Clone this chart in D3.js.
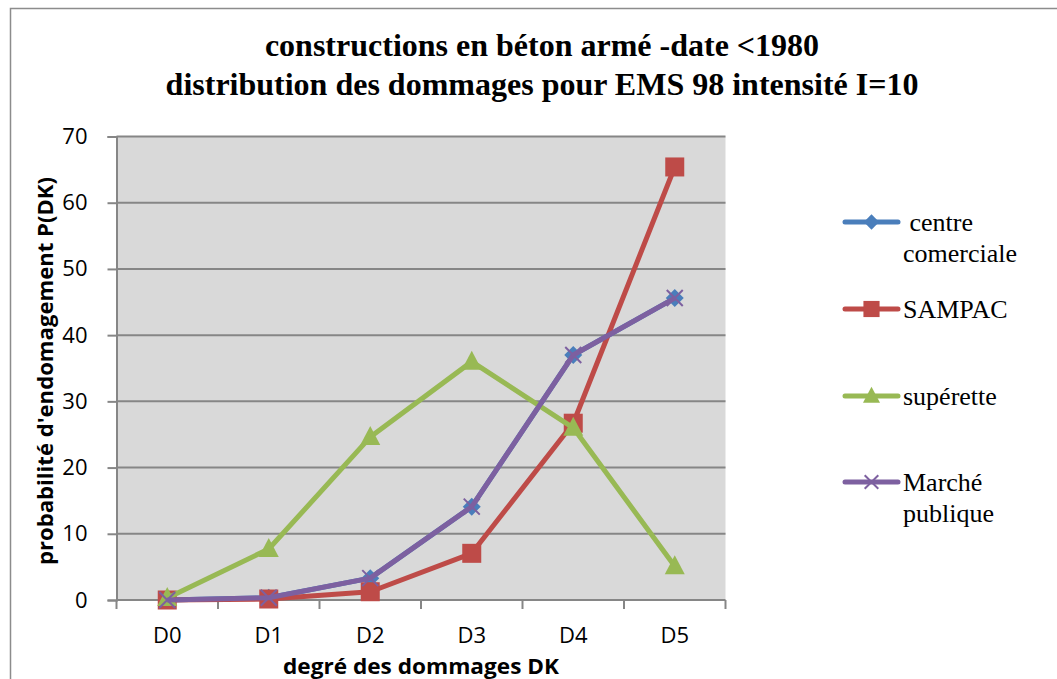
<!DOCTYPE html>
<html>
<head>
<meta charset="utf-8">
<script src="https://cdn.jsdelivr.net/npm/d3@7"></script>
<style>
  html, body { margin: 0; padding: 0; background: #fff; }
  svg { display: block; }
</style>
</head>
<body>
<svg id="chart" width="1057" height="679"></svg>
<script>
// Damage grades and probabilities (%) per building
const categories = ["D0", "D1", "D2", "D3", "D4", "D5"];
const centreComerciale = [0, 0.35, 3.3, 14.1, 37.0, 45.6];
const sampac = [0, 0.15, 1.25, 7.05, 26.7, 65.4];
const superette = [0.3, 7.7, 24.6, 36.0, 26.0, 5.1];
const marchePublique = [0, 0.35, 3.3, 14.1, 37.0, 45.6];
const yTicks = [0, 10, 20, 30, 40, 50, 60, 70];

const series = [
  { name: ["\u00a0centre", "comerciale"], values: centreComerciale, color: "#4a7ebb", marker: "diamond" },
  { name: ["SAMPAC"], values: sampac, color: "#be4b48", marker: "square" },
  { name: ["supérette"], values: superette, color: "#98b954", marker: "triangle" },
  { name: ["Marché", "publique"], values: marchePublique, color: "#7d60a0", marker: "cross" }
];

const sansFont = "'Open Sans', 'Noto Sans', sans-serif";
const serifFont = "'Liberation Serif', 'Times New Roman', serif";

const svg = d3.select("#chart");
const plot = { left: 116.5, right: 725.5, top: 136.5, bottom: 600 };

// Outer frame (left and top edges visible)
svg.append("path")
  .attr("d", "M10.5,679 L10.5,8.5 L1057,8.5")
  .attr("fill", "none").attr("stroke", "#8c8c8c").attr("stroke-width", 1.5);

const x = d3.scaleBand().domain(categories).range([plot.left, plot.right]);
const y = d3.scaleLinear().domain([0, 70]).range([plot.bottom, plot.top]);
const cx = d => x(d) + x.bandwidth() / 2;

// Plot background
svg.append("rect")
  .attr("x", plot.left).attr("y", plot.top)
  .attr("width", plot.right - plot.left).attr("height", plot.bottom - plot.top)
  .attr("fill", "#d9d9d9");

// Horizontal gridlines
svg.append("g").selectAll("line").data(yTicks.filter(t => t > 0)).join("line")
  .attr("x1", plot.left).attr("x2", plot.right)
  .attr("y1", d => y(d)).attr("y2", d => y(d))
  .attr("stroke", "#868686").attr("stroke-width", 2);

// Y axis
const yAxis = svg.append("g").attr("transform", `translate(${plot.left},0)`)
  .call(d3.axisLeft(y).tickValues(yTicks).tickSize(9).tickPadding(20));
yAxis.select(".domain").attr("stroke", "#868686").attr("stroke-width", 2);
yAxis.selectAll(".tick line").attr("stroke", "#868686").attr("stroke-width", 2);
yAxis.selectAll(".tick text")
  .attr("font-family", sansFont).attr("font-size", 22).attr("fill", "#000");

// X axis with ticks between categories
const xAxis = svg.append("g").attr("transform", `translate(0,${plot.bottom})`)
  .call(d3.axisBottom(x).tickSize(0).tickPadding(27));
xAxis.select(".domain").attr("stroke", "#868686").attr("stroke-width", 2)
  .attr("d", `M${plot.left},0H${plot.right}`);
xAxis.selectAll(".tick text")
  .attr("font-family", sansFont).attr("font-size", 22).attr("fill", "#000");
xAxis.append("g").selectAll("line")
  .data(d3.range(categories.length + 1)).join("line")
  .attr("x1", i => plot.left + i * x.bandwidth())
  .attr("x2", i => plot.left + i * x.bandwidth())
  .attr("y1", 0).attr("y2", 9)
  .attr("stroke", "#868686").attr("stroke-width", 2);

// Marker shapes
function drawMarker(g, type, px, py, color, scale) {
  const s = scale || 1;
  if (type === "diamond") {
    const r = 9 * s;
    g.append("path").attr("d", `M${px},${py - r}L${px + r},${py}L${px},${py + r}L${px - r},${py}Z`)
      .attr("fill", color);
  } else if (type === "square") {
    const h = 9.5 * s;
    g.append("rect").attr("x", px - h).attr("y", py - h).attr("width", 2 * h).attr("height", 2 * h)
      .attr("fill", color);
  } else if (type === "triangle") {
    const h = 10 * s;
    g.append("path").attr("d", `M${px},${py - h * 1.1}L${px + h},${py + h * 0.8}L${px - h},${py + h * 0.8}Z`)
      .attr("fill", color);
  } else if (type === "cross") {
    const r = 8 * s;
    g.append("path").attr("d", `M${px - r},${py - r}L${px + r},${py + r}M${px + r},${py - r}L${px - r},${py + r}`)
      .attr("stroke", color).attr("stroke-width", 2).attr("fill", "none");
  }
}

const line = d3.line().x((d, i) => cx(categories[i])).y(d => y(d));

series.forEach(s => {
  const g = svg.append("g");
  g.append("path").datum(s.values)
    .attr("d", line).attr("fill", "none")
    .attr("stroke", s.color).attr("stroke-width", 5).attr("stroke-linejoin", "round");
  s.values.forEach((v, i) => drawMarker(g, s.marker, cx(categories[i]), y(v), s.color));
});

// Title
const title = svg.append("text")
  .attr("text-anchor", "middle")
  .attr("font-family", serifFont)
  .attr("font-weight", "bold").attr("font-size", 32).attr("fill", "#000");
title.append("tspan").attr("x", 542).attr("y", 56).text("constructions en béton armé -date <1980");
title.append("tspan").attr("x", 542).attr("y", 95).text("distribution des dommages pour EMS 98 intensité I=10");

// Axis titles
svg.append("text")
  .attr("x", 421).attr("y", 674).attr("text-anchor", "middle")
  .attr("font-family", sansFont)
  .attr("font-weight", "bold").attr("font-size", 22).attr("fill", "#000")
  .attr("textLength", 276).attr("lengthAdjust", "spacingAndGlyphs")
  .text("degré des dommages DK");

svg.append("text")
  .attr("transform", "translate(53,371) rotate(-90)")
  .attr("text-anchor", "middle")
  .attr("font-family", sansFont)
  .attr("font-weight", "bold").attr("font-size", 21).attr("fill", "#000")
  .attr("textLength", 388).attr("lengthAdjust", "spacingAndGlyphs")
  .text("probabilité d'endomagement P(DK)");

// Legend
const legendY = [222, 309, 396, 482];
series.forEach((s, i) => {
  const g = svg.append("g");
  const ly = legendY[i];
  g.append("line").attr("x1", 845).attr("x2", 898).attr("y1", ly).attr("y2", ly)
    .attr("stroke", s.color).attr("stroke-width", 5).attr("stroke-linecap", "round");
  drawMarker(g, s.marker, 871.5, ly, s.color, 0.85);
  const t = g.append("text")
    .attr("font-family", serifFont)
    .attr("font-size", 26).attr("fill", "#000");
  s.name.forEach((n, k) => {
    t.append("tspan").attr("x", 903).attr("y", ly + 9 + k * 31).text(n);
  });
});
</script>
</body>
</html>
